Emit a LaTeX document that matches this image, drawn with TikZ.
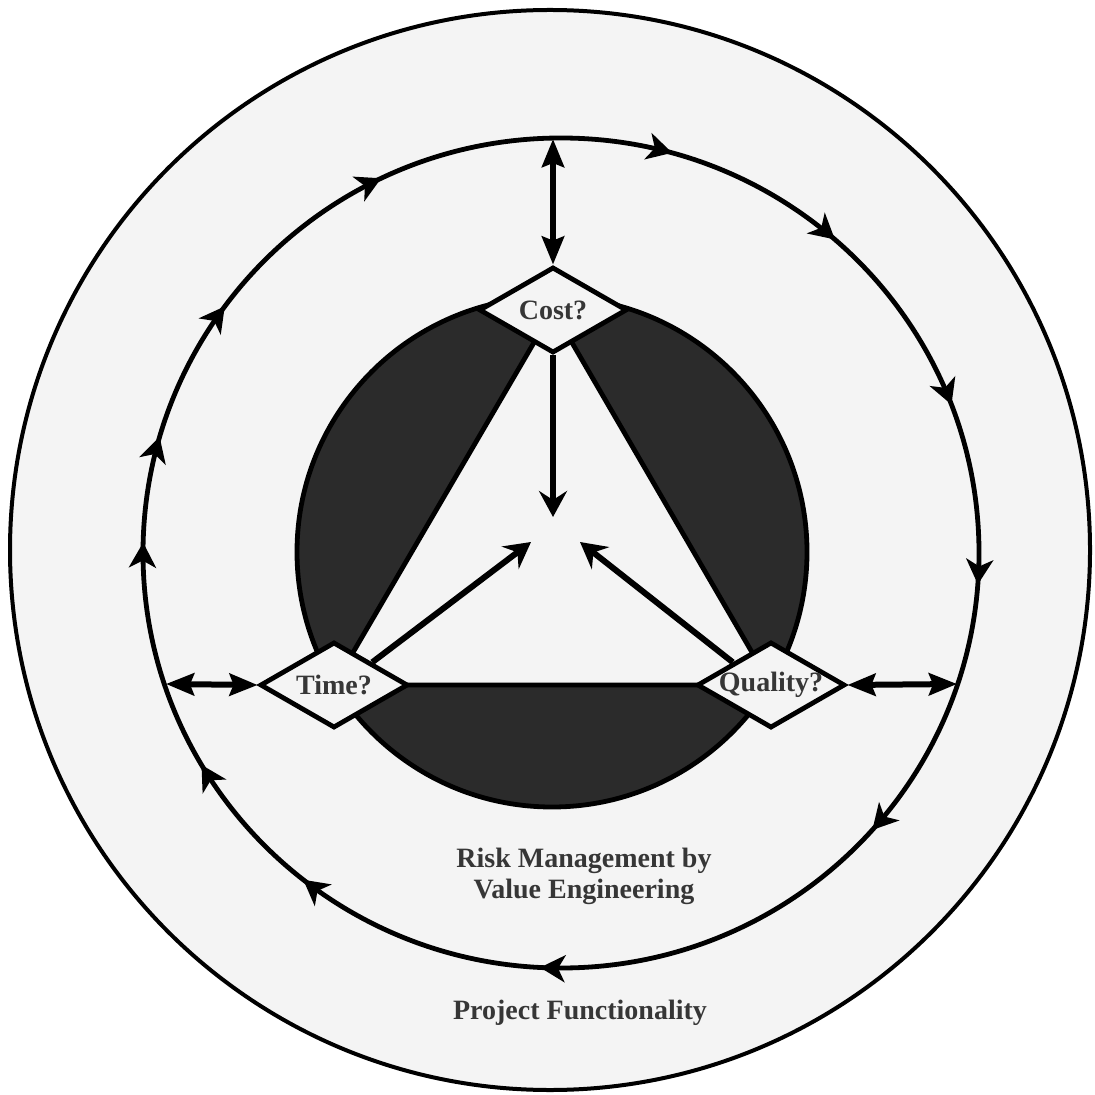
\documentclass[tikz,border=0pt]{standalone}
\usepackage{fontspec}
\setmainfont{Liberation Serif}
\usetikzlibrary{arrows.meta,decorations.markings,shapes.geometric}
\definecolor{bg}{HTML}{F4F4F4}
\definecolor{dark}{HTML}{2B2B2B}
\definecolor{txt}{HTML}{363636}
\tikzset{
  rtip/.tip={Stealth[length=12.5pt,width=13.5pt,inset=3.5pt]},
  qbox/.style={diamond, aspect=1.72, draw=black, line width=2.4pt, fill=bg, inner sep=0pt,
    minimum width=74pt, minimum height=43pt, font=\bfseries\fontsize{14}{16}\selectfont, text=txt},
  lbl/.style={font=\bfseries\fontsize{14}{15.5}\selectfont, text=txt, align=center},
  dbl/.style={line width=3pt, {Stealth[length=14pt,width=11pt,inset=2pt]}-{Stealth[length=14pt,width=11pt,inset=2pt]}},
  toc/.style={line width=3pt, -{Stealth[length=13pt,width=14pt,inset=4.5pt]}},
  ring/.style={line width=2.4pt, postaction={decorate}, decoration={markings,
    mark=at position 0.012 with {\arrow{rtip}},
    mark=at position 0.116 with {\arrow{rtip}},
    mark=at position 0.258 with {\arrow{rtip}},
    mark=at position 0.356 with {\arrow{rtip}},
    mark=at position 0.415 with {\arrow{rtip}},
    mark=at position 0.504 with {\arrow{rtip}},
    mark=at position 0.545 with {\arrow{rtip}},
    mark=at position 0.601 with {\arrow{rtip}},
    mark=at position 0.679 with {\arrow{rtip}},
    mark=at position 0.793 with {\arrow{rtip}},
    mark=at position 0.864 with {\arrow{rtip}},
    mark=at position 0.942 with {\arrow{rtip}}}}
}
\begin{document}
\begin{tikzpicture}[x=0.5pt,y=-0.5pt]
\useasboundingbox (0,0) rectangle (1094,1095);
\fill[white] (0,0) rectangle (1094,1095);
% outer disc
\draw[line width=2pt, fill=bg] (550,550) circle[radius=540];
% dark inner circle
\draw[line width=2.4pt, fill=dark] (552,552) circle[radius=255];
% centres of the three questions
\coordinate (cC) at (553,310);
\coordinate (cT) at (334,685);
\coordinate (cQ) at (771,685);
% white triangle
\draw[line width=2.4pt, fill=bg, line join=miter] (cC) -- (cT) -- (cQ) -- cycle;
% ring with arrows
\draw[ring] (561,553) ellipse[x radius=418, y radius=415];
% diamonds
\node[qbox] (cost) at (cC) {Cost?};
\node[qbox] (time) at (cT) {Time?};
\node[qbox] (quality) at (cQ) {Quality?};
% ring points
\coordinate (ringT) at (553,139);
\coordinate (ringL) at (166,684);
\coordinate (ringR) at (957,684);
\draw[dbl] (ringT) -- (cost.north);
\draw[dbl] (ringL) -- (time.west);
\draw[dbl] (quality.east) -- (ringR);
% arrows to the centre
\coordinate (hubC) at (553,517);
\coordinate (hubT) at (531,542);
\coordinate (hubQ) at (580,542);
\draw[toc] (cost.south) -- (hubC);
\draw[toc] (time.north east) -- (hubT);
\draw[toc] (quality.north west) -- (hubQ);
% labels
\node[lbl] (risk) at (584,876) {Risk Management by\\Value Engineering};
\node[lbl, anchor=base] (func) at (580,1019) {Project Functionality};
\end{tikzpicture}
\end{document}
